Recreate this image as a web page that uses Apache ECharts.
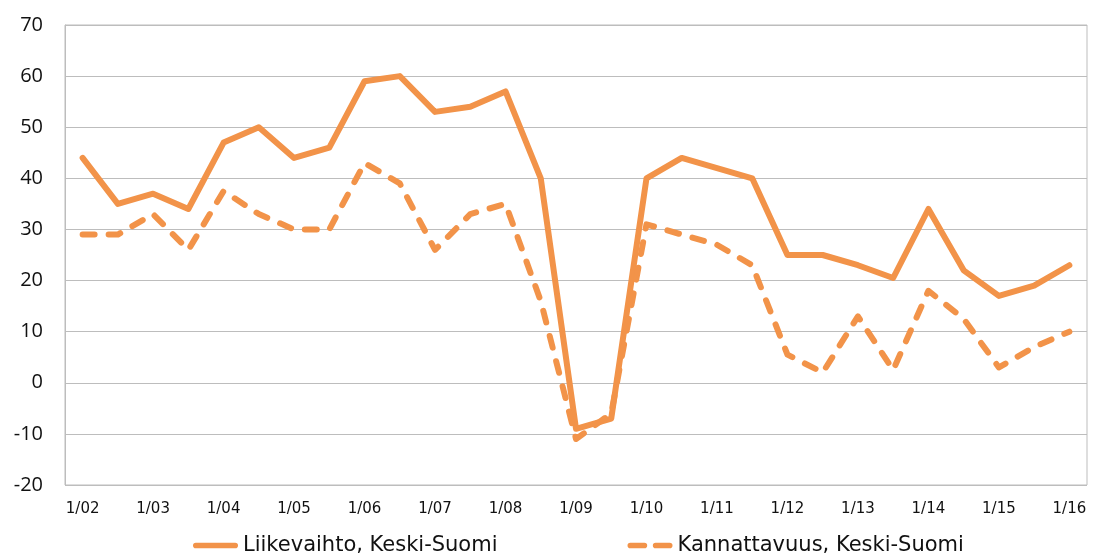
<!DOCTYPE html>
<html>
<head>
<meta charset="utf-8">
<script src="https://cdn.jsdelivr.net/npm/echarts@6/dist/echarts.min.js"></script>
<style>
  html, body { margin: 0; padding: 0; background: #fff; }
  #main { width: 1093px; height: 556px; }
</style>
</head>
<body>
<div id="main"></div>
<script>
// puolivuosittaiset havainnot 1/02 ... 1/16
var categories = ['1/02','7/02','1/03','7/03','1/04','7/04','1/05','7/05','1/06','7/06',
    '1/07','7/07','1/08','7/08','1/09','7/09','1/10','7/10','1/11','7/11',
    '1/12','7/12','1/13','7/13','1/14','7/14','1/15','7/15','1/16'];

var liikevaihto = [44, 35, 37, 34, 47, 50, 44, 46, 59, 60,
    53, 54, 57, 40, -9, -7, 40, 44, 42, 40,
    25, 25, 23, 20.5, 34, 22, 17, 19, 23];

var kannattavuus = [29, 29, 33, 26, 37.5, 33, 30, 30, 43, 39,
    26, 33, 35, 16, -11, -6, 31, 29, 27, 23,
    5.5, 2, 13, 2.5, 18, 12.5, 3, 7, 10];

var yTicks = [-20, -10, 0, 10, 20, 30, 40, 50, 60, 70];

var orange = '#F29349';

// legendan viivakuvakkeet (48 x 6)
var solidIcon = 'path://M3,0H45A3,3 0 0 1 45,6H3A3,3 0 0 1 3,0Z';
var dashIcon = 'path://M3,0H18A3,3 0 0 1 18,6H3A3,3 0 0 1 3,0Z M30,0H45A3,3 0 0 1 45,6H30A3,3 0 0 1 30,0Z';

var myChart = echarts.init(document.getElementById('main'));

var option = {
    animation: false,
    grid: {
        left: 65, right: 6, top: 25, bottom: 71,
        show: true, borderColor: '#bdbdbd', borderWidth: 1
    },
    legend: {
        left: 188, top: 530,
        itemWidth: 45, itemHeight: 6, itemGap: 130,
        textStyle: { fontFamily: 'DejaVu Sans', fontSize: 21, color: '#111' },
        data: [
            { name: 'Liikevaihto, Keski-Suomi', icon: solidIcon },
            { name: 'Kannattavuus, Keski-Suomi', icon: dashIcon }
        ]
    },
    xAxis: {
        type: 'category',
        data: categories,
        boundaryGap: true,
        axisLine: { show: false },
        axisTick: { show: false },
        axisLabel: {
            interval: 1, margin: 17,
            fontFamily: 'DejaVu Sans', fontSize: 15, color: '#111'
        }
    },
    yAxis: {
        type: 'value',
        min: yTicks[0], max: yTicks[yTicks.length - 1], interval: 10,
        axisLine: { show: true, lineStyle: { color: '#bdbdbd' } },
        axisTick: { show: false },
        axisLabel: { margin: 22, fontFamily: 'Open Sans', fontSize: 20, color: '#111' },
        splitLine: { lineStyle: { color: '#bdbdbd', width: 1 } }
    },
    series: [
        {
            name: 'Liikevaihto, Keski-Suomi',
            type: 'line',
            data: liikevaihto,
            symbol: 'none',
            itemStyle: { color: orange },
            lineStyle: { color: orange, width: 6, cap: 'round', join: 'round' }
        },
        {
            name: 'Kannattavuus, Keski-Suomi',
            type: 'line',
            data: kannattavuus,
            symbol: 'none',
            itemStyle: { color: orange },
            lineStyle: { color: orange, width: 6, type: [12, 14], cap: 'round', join: 'round' }
        }
    ]
};

myChart.setOption(option);
</script>
</body>
</html>
